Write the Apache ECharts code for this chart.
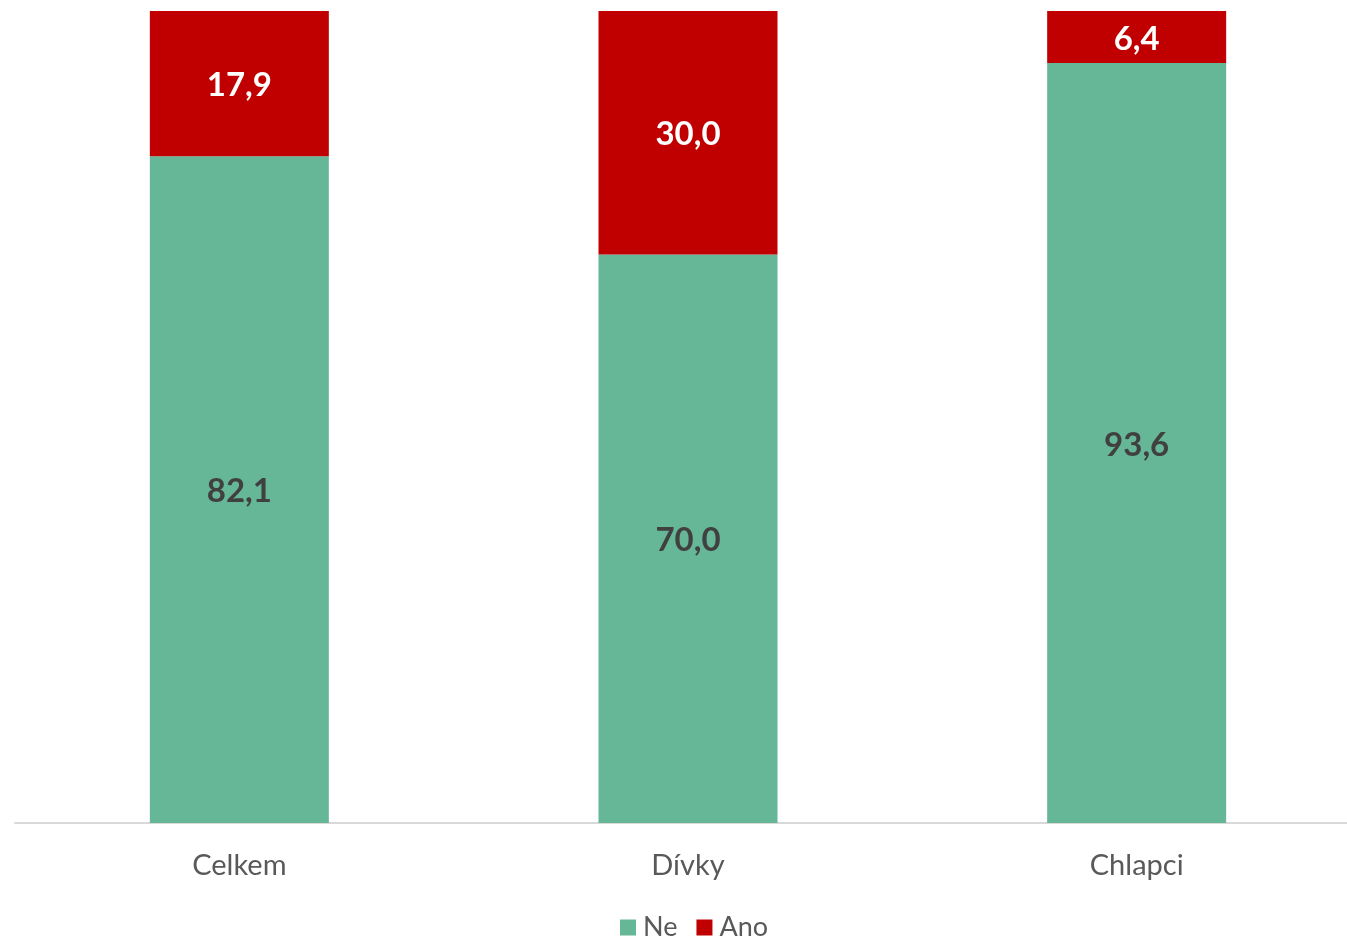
<!DOCTYPE html>
<html><head><meta charset="utf-8">
<script src="https://cdn.jsdelivr.net/npm/echarts@6/dist/echarts.min.js"></script>
<style>html,body{margin:0;padding:0;background:#fff;overflow:hidden;width:1347px;height:937px}#c{width:1361px;height:937px}</style>
</head><body><div id="c"></div>
<script>
const categories = ['Celkem', 'Dívky', 'Chlapci'];
const ne = [82.1, 70.0, 93.6];
const ano = [17.9, 30.0, 6.4];
const seriesNames = ['Ne', 'Ano'];

const FONT = 'Lato, "Open Sans", sans-serif';
const chart = echarts.init(document.getElementById('c'));
const fmt = p => p.value.toFixed(1).replace('.', ',');
chart.setOption({
  animation: false,
  grid: { left: 15, right: 0, top: 11, bottom: 114, containLabel: false },
  legend: {
    data: seriesNames, top: 909, left: 615, padding: 5,
    itemWidth: 16, itemHeight: 16, itemGap: 19, icon: 'rect',
    textStyle: { fontFamily: FONT, fontSize: 27, color: '#595959', padding: [0, 0, 0, 2] }
  },
  xAxis: {
    type: 'category', data: categories,
    axisLine: { lineStyle: { color: '#d9d9d9', width: 2 } },
    axisTick: { show: false },
    axisLabel: { fontFamily: FONT, fontSize: 29, color: '#595959', margin: 28 }
  },
  yAxis: { type: 'value', min: 0, max: 100, show: false, splitLine: { show: false } },
  series: [
    { name: 'Ne', type: 'bar', stack: 's', data: ne, barWidth: 179,
      itemStyle: { color: '#66B698' },
      label: { show: true, position: 'inside', offset: [0, 2], formatter: fmt, fontFamily: FONT, fontWeight: 'bold', fontSize: 33, color: '#404040' } },
    { name: 'Ano', type: 'bar', stack: 's', data: ano, barWidth: 179,
      itemStyle: { color: '#C00000' },
      label: { show: true, position: 'inside', offset: [0, 2], formatter: fmt, fontFamily: FONT, fontWeight: 'bold', fontSize: 33, color: '#ffffff' } }
  ]
});
</script></body></html>
